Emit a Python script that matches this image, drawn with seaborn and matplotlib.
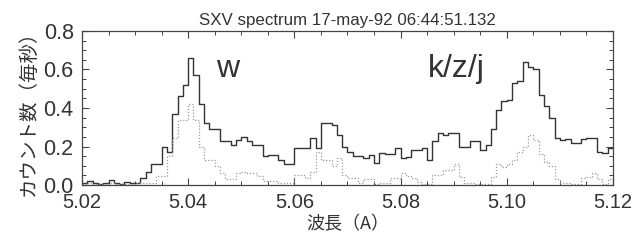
import numpy as np
import pandas as pd
import matplotlib
matplotlib.use("Agg")
import matplotlib.pyplot as plt
import seaborn as sns
from matplotlib.ticker import MultipleLocator

# bin left edges: 5.020 .. 5.119 A, 0.001 A wide
wave_start = 5.020
bin_width = 0.001

# total counts per second (solid)
total = [0.008, 0.02, 0.012, 0.005, 0.008, 0.025, 0.01, 0.005, 0.018, 0.012,
         0.012, 0.035, 0.07, 0.11, 0.11, 0.20, 0.17, 0.37, 0.46, 0.52,
         0.66, 0.57, 0.42, 0.32, 0.29, 0.29, 0.23, 0.23, 0.21, 0.235,
         0.25, 0.23, 0.21, 0.21, 0.15, 0.155, 0.155, 0.13, 0.11, 0.11,
         0.19, 0.19, 0.19, 0.245, 0.19, 0.32, 0.32, 0.31, 0.26, 0.20,
         0.17, 0.15, 0.15, 0.14, 0.155, 0.113, 0.166, 0.16, 0.16, 0.19,
         0.14, 0.148, 0.18, 0.18, 0.19, 0.13, 0.227, 0.27, 0.26, 0.27,
         0.27, 0.20, 0.20, 0.23, 0.23, 0.18, 0.21, 0.29, 0.39, 0.436,
         0.44, 0.53, 0.54, 0.64, 0.615, 0.60, 0.47, 0.41, 0.35, 0.245,
         0.235, 0.24, 0.22, 0.22, 0.24, 0.245, 0.245, 0.17, 0.165, 0.19]

# second spectrum (dotted)
second = [0.005, 0.008, 0.004, 0.006, 0.003, 0.008, 0.004, 0.005, 0.006, 0.004,
          0.01, 0.01, 0.01, 0.01, 0.045, 0.045, 0.15, 0.245, 0.34, 0.34,
          0.42, 0.34, 0.20, 0.13, 0.13, 0.10, 0.06, 0.03, 0.03, 0.06,
          0.07, 0.06, 0.06, 0.045, 0.02, 0.02, 0.02, 0.01, 0.01, 0.01,
          0.05, 0.05, 0.035, 0.07, 0.17, 0.13, 0.13, 0.10, 0.14, 0.05,
          0.035, 0.035, 0.01, 0.03, 0.03, 0.005, 0.01, 0.01, 0.035, 0.035,
          0.06, 0.045, 0.035, 0.015, 0.005, 0.005, 0.05, 0.05, 0.08, 0.08,
          0.11, 0.04, 0.01, 0.01, 0.005, 0.005, 0.005, 0.04, 0.11, 0.095,
          0.11, 0.13, 0.17, 0.20, 0.26, 0.235, 0.16, 0.12, 0.10, 0.03,
          0.01, 0.008, 0.006, 0.005, 0.035, 0.04, 0.06, 0.03, 0.005, 0.03]

edges = wave_start + bin_width * np.arange(len(total) + 1)
df = pd.DataFrame({
    "wave": edges,
    "total": np.append(total, total[-1]),
    "second": np.append(second, second[-1]),
})

sns.set_style("ticks")
plt.rcParams["font.family"] = ["Liberation Sans", "DejaVu Sans"]

fig = plt.figure(figsize=(6.37, 2.42), dpi=100)
ax = fig.add_axes([0.1287, 0.2355, 0.8336, 0.6365])

sns.lineplot(data=df, x="wave", y="total", ax=ax, color="#333333",
             lw=1.0, drawstyle="steps-post", estimator=None)
sns.lineplot(data=df, x="wave", y="second", ax=ax, color="#999999",
             lw=0.9, linestyle=(0, (1, 1.5)), drawstyle="steps-post", estimator=None)

ax.set_xlim(5.02, 5.12)
ax.set_ylim(0, 0.8)
ax.xaxis.set_major_locator(MultipleLocator(0.02))
ax.xaxis.set_minor_locator(MultipleLocator(0.005))
ax.yaxis.set_major_locator(MultipleLocator(0.2))
ax.yaxis.set_minor_locator(MultipleLocator(0.05))
ax.set_xticklabels([f"{v:.2f}" for v in ax.get_xticks()])
ax.set_yticklabels([f"{v:.1f}" for v in ax.get_yticks()])
ax.tick_params(which="both", direction="in", top=True, right=True,
               color="#444444", labelcolor="#333333")
ax.tick_params(axis="x", labelsize=14.5)
ax.tick_params(axis="y", labelsize=15.5)
ax.tick_params(which="major", length=5, width=0.8, pad=6)
ax.tick_params(which="minor", length=3, width=0.7)
for s in ax.spines.values():
    s.set_color("#444444")
    s.set_linewidth(0.9)

ax.set_title("SXV spectrum 17-may-92 06:44:51.132", fontsize=12.2,
             color="#333333", pad=4)
ax.set_xlabel("波長（A）", family=["Noto Sans CJK JP", "DejaVu Sans"],
              fontsize=13, color="#333333", labelpad=2)
ax.set_ylabel("カウント数（毎秒）", family=["Noto Sans CJK JP", "DejaVu Sans"],
              fontsize=14, color="#333333", labelpad=3)

ax.text(5.0475, 0.56, "w", fontsize=23, color="#333333", ha="center", va="baseline")
ax.text(5.0852, 0.56, "k/z/j", fontsize=23, color="#333333", ha="left", va="baseline")

fig.savefig("out.png", dpi=100)
